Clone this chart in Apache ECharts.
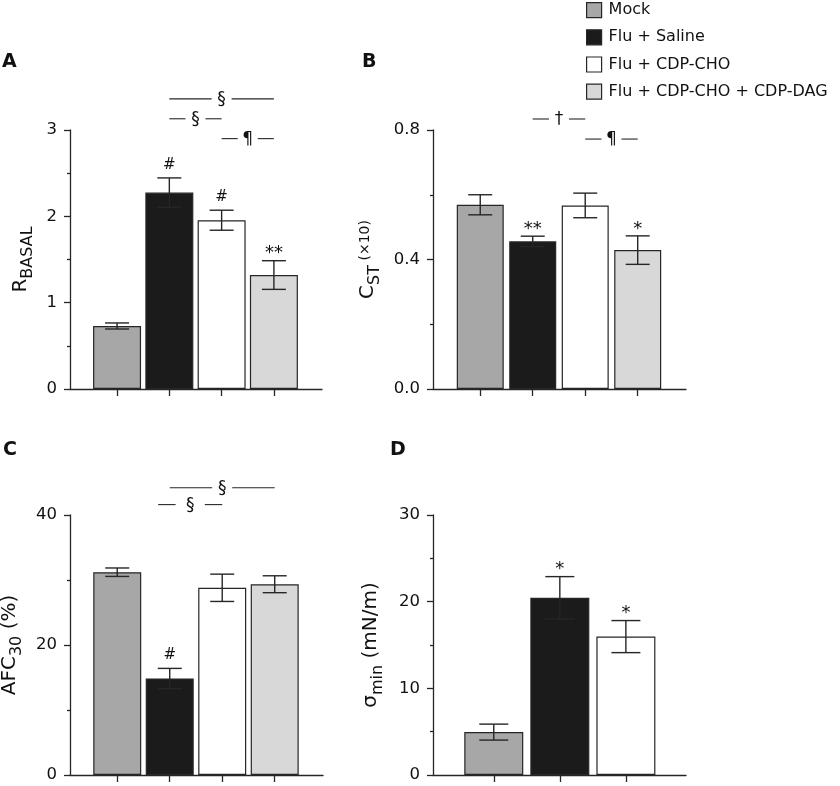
<!DOCTYPE html>
<html><head><meta charset="utf-8">
<script src="https://cdn.jsdelivr.net/npm/echarts@6/dist/echarts.min.js"></script>
<style>html,body{margin:0;padding:0;background:#fff}#c{width:840px;height:786px}</style>
</head><body><div id="c"></div>
<script>
// ---------- data ----------
const groups = ['Mock', 'Flu + Saline', 'Flu + CDP-CHO', 'Flu + CDP-CHO + CDP-DAG'];
const groupColors = ['#a7a7a7', '#1b1b1b', '#ffffff', '#d8d8d8'];
const positions = [1, 2, 3, 4];

const rbasal = [0.73, 2.275, 1.955, 1.32];
const rbasalErr = [0.035, 0.17, 0.116, 0.166];
const rbasalMarks = ['', '#', '#', '**'];
const rbasalTicks = [0, 1, 2, 3];

const cst = [0.569, 0.456, 0.567, 0.429];
const cstErr = [0.031, 0.016, 0.038, 0.044];
const cstMarks = ['', '**', '', '*'];
const cstTicks = [0, 0.4, 0.8];

const afc = [31.2, 14.85, 28.8, 29.35];
const afcErr = [0.65, 1.55, 2.1, 1.3];
const afcMarks = ['', '#', '', ''];
const afcTicks = [0, 20, 40];

const sigma = [4.95, 20.45, 15.97];
const sigmaErr = [0.92, 2.44, 1.85];
const sigmaMarks = ['', '*', '*'];
const sigmaTicks = [0, 10, 20, 30];

// significance brackets: [from, to, level (data units), symbol]
const bracketsA = [[2, 4, 3.36, '§'], [2, 3, 3.13, '§'], [3, 4, 2.9, '¶']];
const bracketsB = [[2, 3, 0.834, '†'], [3, 4, 0.772, '¶']];
const bracketsC = [[2, 4, 44.2, '§'], [1.78, 3, 41.6, ' § ']];
const bracketsD = [];

// ---------- styling ----------
const FONT = '"DejaVu Sans", Verdana, sans-serif';
const INK = '#262626';
const TXT = '#111111';

const panels = [
  { letter: 'A', letterPos: [2, 53], grid: { left: 70, top: 130, width: 252, height: 259 },
    values: rbasal, errs: rbasalErr, marks: rbasalMarks, ticks: rbasalTicks, brackets: bracketsA,
    xRange: [0.1, 4.92], barWidth: 48, cap: 12, nameGap: 34, dec: 0,
    name: '{m|R}{s|BASAL}' },
  { letter: 'B', letterPos: [362, 53], grid: { left: 433, top: 130, width: 253, height: 259 },
    values: cst, errs: cstErr, marks: cstMarks, ticks: cstTicks, brackets: bracketsB,
    xRange: [0.1, 4.92], barWidth: 47, cap: 12, nameGap: 50, dec: 1,
    name: '{m|C}{s|ST}{p| (×10)}' },
  { letter: 'C', letterPos: [3, 441], grid: { left: 70, top: 515, width: 253, height: 260 },
    values: afc, errs: afcErr, marks: afcMarks, ticks: afcTicks, brackets: bracketsC,
    xRange: [0.1, 4.92], barWidth: 48, cap: 12, nameGap: 45, dec: 0,
    name: '{m|AFC}{s|30}{m| (%)}' },
  { letter: 'D', letterPos: [390, 441], grid: { left: 433, top: 515, width: 253, height: 260 },
    values: sigma, errs: sigmaErr, marks: sigmaMarks, ticks: sigmaTicks, brackets: bracketsD,
    xRange: [0.08, 3.91], barWidth: 59, cap: 14.5, nameGap: 47, dec: 0,
    name: '{m|σ}{s|min}{m| (mN/m)}' }
];

const nameRich = {
  m: { fontSize: 20, lineHeight: 22, verticalAlign: 'top', fontFamily: FONT, color: TXT },
  s: { fontSize: 16, lineHeight: 25, verticalAlign: 'bottom', fontFamily: FONT, color: TXT },
  p: { fontSize: 14, lineHeight: 16, verticalAlign: 'top', fontFamily: FONT, color: TXT }
};

const option = {
  animation: false,
  backgroundColor: '#ffffff',
  textStyle: { fontFamily: FONT },
  title: [],
  legend: {
    data: groups, orient: 'vertical', left: 586, top: 2,
    itemWidth: 15, itemHeight: 15, itemGap: 11, icon: 'rect',
    padding: 0, selectedMode: false,
    itemStyle: { borderColor: INK, borderWidth: 1.2 },
    textStyle: { fontSize: 16, color: TXT, fontFamily: FONT, padding: [0, 0, 0, 2] }
  },
  grid: [], xAxis: [], yAxis: [], series: []
};

panels.forEach((p, k) => {
  option.title.push({ text: p.letter, left: p.letterPos[0], top: p.letterPos[1], padding: 0,
    textStyle: { fontSize: 19, fontWeight: 'bold', color: TXT, fontFamily: FONT } });
  option.grid.push(Object.assign({ containLabel: false, outerBoundsMode: 'none' }, p.grid));
  const n = p.values.length;
  option.xAxis.push({
    type: 'value', gridIndex: k, min: p.xRange[0], max: p.xRange[1],
    axisLine: { show: true, onZero: false, lineStyle: { color: INK, width: 1.3 } },
    axisTick: { show: true, customValues: positions.slice(0, n), length: 7, lineStyle: { color: INK, width: 1.3 } },
    axisLabel: { show: false }, splitLine: { show: false }
  });
  const tks = p.ticks;
  option.yAxis.push({
    type: 'value', gridIndex: k, min: tks[0], max: tks[tks.length - 1], interval: tks[1] - tks[0],
    axisLine: { show: true, lineStyle: { color: INK, width: 1.3 } },
    axisTick: { show: true, length: 6, lineStyle: { color: INK, width: 1.3 } },
    minorTick: { show: true, splitNumber: 2, length: 3, lineStyle: { color: INK, width: 1.3 } },
    splitLine: { show: false },
    axisLabel: { fontSize: 16.5, color: TXT, margin: 13, fontFamily: FONT,
      formatter: v => Number(v).toFixed(p.dec) },
    name: p.name, nameLocation: 'middle', nameGap: p.nameGap,
    nameTextStyle: { rich: nameRich }
  });
  // bars
  for (let i = 0; i < n; i++) {
    option.series.push({
      type: 'bar', name: groups[i], xAxisIndex: k, yAxisIndex: k,
      data: [[positions[i], p.values[i]]], barWidth: p.barWidth, barGap: '-100%',
      itemStyle: { color: groupColors[i], borderColor: INK, borderWidth: 1.2 },
      z: 2
    });
  }
  // error bars + significance marks
  option.series.push({
    type: 'custom', xAxisIndex: k, yAxisIndex: k, z: 5, clip: false,
    data: p.values.map((v, i) => [positions[i], v, p.errs[i]]),
    encode: { x: 0, y: 1 },
    renderItem: (params, api) => {
      const x = api.value(0), v = api.value(1), e = api.value(2);
      const top = api.coord([x, v + e]), bot = api.coord([x, v - e]);
      const ls = { stroke: INK, lineWidth: 1.4 };
      const hw = p.cap;
      const mark = p.marks[params.dataIndex];
      const children = [
        { type: 'line', shape: { x1: top[0], y1: top[1], x2: bot[0], y2: bot[1] }, style: ls },
        { type: 'line', shape: { x1: top[0] - hw, y1: top[1], x2: top[0] + hw, y2: top[1] }, style: ls },
        { type: 'line', shape: { x1: bot[0] - hw, y1: bot[1], x2: bot[0] + hw, y2: bot[1] }, style: ls }
      ];
      if (mark) {
        const star = mark.indexOf('*') >= 0;
        children.push({ type: 'text', x: top[0], y: top[1] - (star ? 7 : 13),
          style: { text: mark, textAlign: 'center', textVerticalAlign: 'middle',
            fontSize: star ? 18 : 15, fontFamily: FONT, fill: TXT } });
      }
      return { type: 'group', children };
    }
  });
  // brackets
  if (p.brackets.length) {
    option.series.push({
      type: 'custom', xAxisIndex: k, yAxisIndex: k, z: 6, clip: false,
      data: p.brackets.map(b => [b[0], b[1], b[2]]),
      encode: { x: [0, 1], y: 2 },
      renderItem: (params, api) => {
        const b = p.brackets[params.dataIndex];
        const a = api.coord([api.value(0), api.value(2)]);
        const c = api.coord([api.value(1), api.value(2)]);
        const mid = (a[0] + c[0]) / 2;
        const gap = 10 + (b[3].length - 1) * 2.3;
        const ls = { stroke: INK, lineWidth: 1.1 };
        return { type: 'group', children: [
          { type: 'line', shape: { x1: a[0], y1: a[1], x2: mid - gap, y2: a[1] }, style: ls },
          { type: 'line', shape: { x1: mid + gap, y1: a[1], x2: c[0], y2: a[1] }, style: ls },
          { type: 'text', x: mid, y: a[1] + 1, style: { text: b[3].trim(), textAlign: 'center', textVerticalAlign: 'middle',
            fontSize: 17, fontFamily: FONT, fill: TXT } }
        ] };
      }
    });
  }
});

const chart = echarts.init(document.getElementById('c'), null, { renderer: 'canvas' });
chart.setOption(option);
</script>
</body></html>
